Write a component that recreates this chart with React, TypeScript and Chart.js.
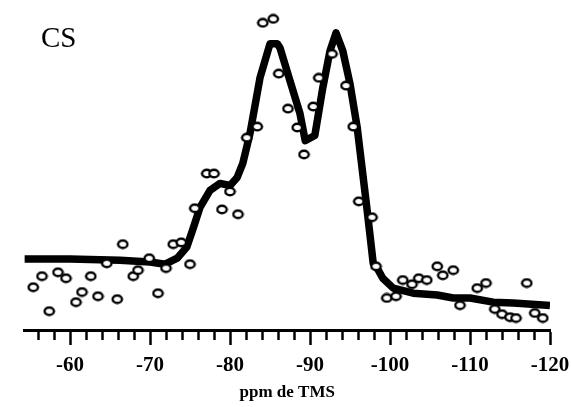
import React, { useEffect, useRef } from "react";
import { Chart, registerables } from "chart.js";

Chart.register(...registerables);

// Fitted curve (ppm, intensity)
const curvePpm = [
  -54.3, -60.0, -66.25, -70.0, -71.9, -73.4, -74.6, -75.4, -76.25, -77.5, -78.75, -80.0,
  -80.9, -81.6, -82.5, -83.75, -85.0, -85.9, -86.25, -87.5, -88.75, -89.4, -90.6, -91.6,
  -92.5, -93.25, -94.1, -95.0, -95.9, -96.5, -97.1, -97.5, -97.9, -98.4, -99.1, -100.4,
  -102.9, -105.9, -107.9, -110.0, -112.9, -115.4, -119.6, -120.0,
];
const curveInt = [
  23.7, 23.7, 23.3, 22.7, 22.0, 24.0, 27.7, 34.0, 41.0, 46.7, 49.0, 48.3,
  51.0, 55.7, 65.7, 84.3, 95.7, 95.7, 94.3, 83.3, 72.3, 63.3, 65.0, 81.0,
  93.3, 99.3, 93.3, 82.3, 67.7, 54.3, 41.0, 31.7, 22.3, 20.7, 17.3, 14.0,
  12.3, 11.7, 10.7, 10.7, 9.3, 9.0, 8.3, 8.2,
];

// Experimental points (ppm, intensity)
const pointPpm = [
  -55.4, -56.5, -58.5, -59.5, -57.4, -60.75, -61.5, -62.6, -63.5, -65.9, -66.6, -64.6,
  -67.9, -68.5, -69.9, -71.0, -72.0, -72.9, -73.9, -75.0, -75.6, -79.0, -81.0, -77.1,
  -78.0, -80.0, -82.1, -83.4, -84.1, -85.4, -86.1, -87.25, -88.4, -89.25, -90.4, -91.1,
  -92.75, -94.5, -95.4, -96.1, -97.75, -98.25, -99.6, -100.75, -101.6, -102.75, -103.6, -104.6,
  -105.9, -106.6, -107.9, -108.75, -110.9, -112.0, -113.1, -114.0, -115.0, -115.75, -117.1, -118.1,
  -119.1,
];
const pointInt = [
  14.3, 18.0, 19.3, 17.3, 6.3, 9.3, 12.7, 18.0, 11.3, 10.3, 28.7, 22.3,
  18.0, 20.0, 24.0, 12.3, 20.7, 28.7, 29.3, 22.0, 40.7, 40.3, 38.7, 52.3,
  52.3, 46.3, 64.3, 68.0, 102.7, 104.0, 85.7, 74.0, 67.7, 58.7, 74.7, 84.3,
  92.3, 81.7, 68.0, 43.0, 37.7, 21.3, 10.7, 11.3, 16.7, 15.3, 17.3, 16.7,
  21.3, 18.3, 20.0, 8.3, 14.0, 15.7, 7.0, 5.3, 4.3, 4.0, 15.7, 5.7,
  4.0,
];

// Axis ticks
const majorTicks = [-60, -70, -80, -90, -100, -110, -120];
const minorTicks = [
  -56, -58, -62, -64, -66, -68, -72, -74, -76, -78, -82, -84, -86, -88,
  -92, -94, -96, -98, -102, -104, -106, -108, -112, -114, -116, -118,
];

const xMin = -120;
const xMax = -54.3;
const xTitle = "ppm de TMS";
const panelLabel = "CS";

function makeEllipse(): HTMLCanvasElement {
  const c = document.createElement("canvas");
  c.width = 13;
  c.height = 11;
  const g = c.getContext("2d")!;
  g.beginPath();
  g.ellipse(6.5, 5.5, 4.7, 3.8, 0, 0, Math.PI * 2);
  g.fillStyle = "#ffffff";
  g.fill();
  g.lineWidth = 2.4;
  g.strokeStyle = "#000000";
  g.stroke();
  return c;
}

export default function App() {
  const ref = useRef<HTMLCanvasElement | null>(null);

  useEffect(() => {
    const canvas = ref.current;
    if (!canvas) return;
    const serif = "'Liberation Serif', 'Times New Roman', serif";
    const marker = makeEllipse();
    const chart = new Chart(canvas, {
      type: "line",
      data: {
        datasets: [
          {
            type: "scatter",
            data: pointPpm.map((x, i) => ({ x, y: pointInt[i] })),
            pointStyle: marker as any,
            pointRadius: 5,
            showLine: false,
            order: 0,
            xAxisID: "x",
          },
          {
            type: "line",
            data: curvePpm.map((x, i) => ({ x, y: curveInt[i] })),
            borderColor: "#000000",
            borderWidth: 7.5,
            borderJoinStyle: "round",
            borderCapStyle: "butt",
            pointRadius: 0,
            tension: 0,
            fill: false,
            order: 1,
            xAxisID: "x",
          },
        ],
      },
      options: {
        animation: false,
        responsive: true,
        maintainAspectRatio: false,
        layout: { padding: { left: 24.4, right: 21, top: 0, bottom: 0 } },
        plugins: { legend: { display: false }, tooltip: { enabled: false } },
        scales: {
          xm: {
            type: "linear",
            position: "bottom",
            reverse: true,
            min: xMin,
            max: xMax,
            weight: 0,
            afterBuildTicks: (s: any) => {
              s.ticks = minorTicks.map((v) => ({ value: v }));
            },
            afterFit: (s: any) => {
              s.height = 0;
              s.paddingLeft = 0;
              s.paddingRight = 0;
            },
            border: { display: false },
            grid: {
              display: true,
              drawOnChartArea: false,
              drawTicks: true,
              tickLength: 10,
              tickWidth: 2.5,
              tickColor: "#000000",
            },
            ticks: { display: false, autoSkip: false },
          },
          x: {
            type: "linear",
            position: "bottom",
            reverse: true,
            min: xMin,
            max: xMax,
            weight: 1,
            afterBuildTicks: (s: any) => {
              s.ticks = majorTicks.map((v) => ({ value: v }));
            },
            afterFit: (s: any) => {
              s.height = 77;
              s.paddingLeft = 0;
              s.paddingRight = 0;
            },
            border: { display: true, color: "#000000", width: 3 },
            grid: {
              display: true,
              drawOnChartArea: false,
              drawTicks: true,
              tickLength: 15,
              tickWidth: 2.5,
              tickColor: "#000000",
            },
            ticks: {
              autoSkip: false,
              maxRotation: 0,
              padding: 8,
              color: "#000000",
              font: { family: serif, size: 21, weight: "bold" },
              callback: (v: any) => String(v),
            },
            title: {
              display: true,
              text: xTitle,
              color: "#000000",
              font: { family: serif, size: 17, weight: "bold" },
              padding: { top: 0, bottom: 4 },
            },
          },
          y: {
            type: "linear",
            display: false,
            min: 0,
            max: 108.3,
          },
        },
      },
    });
    return () => chart.destroy();
  }, []);

  return (
    <div style={{ position: "fixed", left: 0, top: 0, width: 571, height: 407, background: "#fff" }}>
      <canvas ref={ref} />
      <div
        style={{
          position: "absolute",
          left: 41,
          top: 23,
          fontFamily: "'Liberation Serif', 'Times New Roman', serif",
          fontSize: 29,
          lineHeight: "29px",
          color: "#000",
          pointerEvents: "none",
        }}
      >
        {panelLabel}
      </div>
    </div>
  );
}
